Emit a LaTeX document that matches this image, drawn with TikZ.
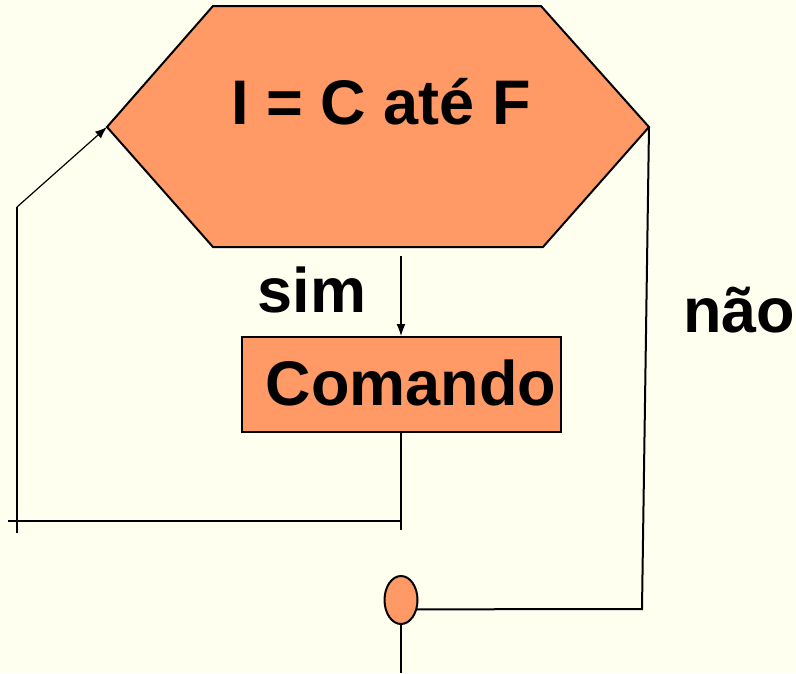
\documentclass[tikz,border=0pt]{standalone}
\usepackage{fontspec}
\setmainfont{Liberation Sans}
\usetikzlibrary{shapes.geometric,arrows.meta}
\definecolor{cream}{RGB}{255,255,240}
\definecolor{salmon}{RGB}{255,153,102}

\begin{document}
\begin{tikzpicture}[x=1pt, y=-1pt, line width=2pt,
  lbl/.style={font=\fontsize{63}{70}\selectfont\bfseries, anchor=base},
  arr/.style={line width=1.2pt, -{Latex[length=12pt,width=9pt]}}]

\def\midx{401}   % main axis
\def\loopx{17}   % back edge
\def\outx{642}   % exit edge

% background
\fill[cream] (0,0) rectangle (796,673);
\useasboundingbox (0,0) rectangle (796,673);

% loop header
\coordinate (hl) at (107,127);
\coordinate (htl) at (213,6);
\coordinate (htr) at (541,6);
\coordinate (hr) at (649,127);
\coordinate (hbr) at (543,247);
\coordinate (hbl) at (213,247);
\filldraw[fill=salmon] (hl) -- (htl) -- (htr) -- (hr) -- (hbr) -- (hbl) -- cycle;
\node[lbl] (cond) at (381,124) {I = C até F};

% body
\node[draw, fill=salmon, minimum width=319pt, minimum height=95pt, inner sep=0pt] (cmd) at (\midx,384.5) {};
\node[lbl] (cmdlbl) at (411,405) {Comando};
\node[lbl] (sim) at (312,312) {sim};
\node[lbl] (nao) at (739,332) {não};

% end point
\node[ellipse, draw, fill=salmon, minimum width=33pt, minimum height=48pt, inner sep=0pt] (fim) at (\midx,600) {};

\coordinate (simtop) at (\midx,256);
\coordinate (cmdend) at (\midx,530);
\coordinate (backl) at (8,521);
\coordinate (backr) at (\midx,521);
\coordinate (lbot) at (\loopx,533);
\coordinate (ltop) at (\loopx,207);
\coordinate (rbot) at (\outx,609);
\coordinate (out) at (\midx,673);

\draw[arr] (simtop) -- (cmd.north);
\draw (cmd.south) -- (cmdend);
\draw (backl) -- (backr);
\draw (lbot) -- (ltop);
\draw[arr] (ltop) -- (hl);
\draw (hr) -- (rbot) -- (fim.-30);
\draw (fim.south) -- (out);

\end{tikzpicture}
\end{document}
